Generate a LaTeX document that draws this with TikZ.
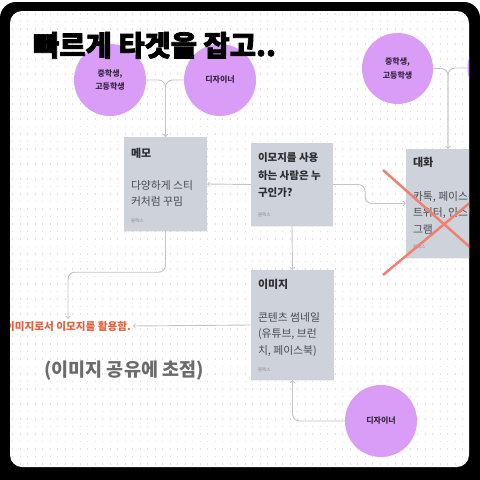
\documentclass[tikz,border=0pt]{standalone}
\usepackage{fontspec}
\usepackage{tikz}
\usepackage{xcolor}
\usetikzlibrary{shadows}
\setmainfont{Noto Sans CJK KR}
\newfontfamily\titlefont[BoldFeatures={FakeBold=2.5}]{Noto Sans CJK KR}
\definecolor{lilac}{RGB}{217,157,248}
\definecolor{lilacink}{RGB}{58,40,66}
\definecolor{notegray}{RGB}{206,210,218}
\definecolor{linegray}{RGB}{196,196,196}
\definecolor{dotgray}{RGB}{224,224,224}
\definecolor{salmon}{RGB}{242,128,112}
\definecolor{rust}{RGB}{230,95,60}
\definecolor{inkgray}{RGB}{75,75,80}
\definecolor{headink}{RGB}{45,45,50}

\begin{document}
\begin{tikzpicture}[x=1pt, y=-1pt,
  main/.style = {circle, fill=lilac, minimum size=72pt, inner sep=0pt, align=center, text=lilacink, font=\fontsize{8}{13.5}\selectfont\bfseries},
  note/.style = {rectangle, fill=notegray, inner sep=0pt, drop shadow={opacity=0.12, shadow xshift=0pt, shadow yshift=-1pt}},
  head/.style = {anchor=base west, inner sep=0pt, text=headink, font=\fontsize{11}{12}\selectfont\bfseries},
  body/.style = {anchor=north west, inner sep=0pt, align=left, text=inkgray, font=\fontsize{10.8}{16.5}\selectfont},
  sign/.style = {anchor=base west, inner sep=0pt, text=black!45, font=\fontsize{4.5}{5}\selectfont},
  link/.style = {->, linegray, line width=0.9pt, rounded corners=7pt}]
\useasboundingbox (0,0) rectangle (480,480);
\fill[black, rounded corners=16pt] (0,2) rectangle (480,520);
\fill[white, rounded corners=12pt] (10,11) rectangle (469,467);
\begin{scope}
\clip[rounded corners=12pt] (10,11) rectangle (469,467);
\foreach \y in {14,21.5,...,466}
  \draw[dotgray, line width=1.1pt, dash pattern=on 1.1pt off 6.4pt] (12,\y) -- (469,\y);

\node[main] (1) at (110,80) {중학생,\\고등학생};
\node[main] (2) at (220,80) {디자이너};
\node[main, minimum size=71pt] (3) at (397.5,68.5) {중학생,\\고등학생};
\node[main, minimum size=71pt] (4) at (503,68) {};
\node[main] (5) at (381,421) {디자이너};

\node[note, minimum width=83pt, minimum height=94pt] (6) at (165.5,184) {};
\node[note, minimum width=82pt, minimum height=83pt] (7) at (292,184.5) {};
\node[note, minimum width=84pt, minimum height=109pt] (8) at (448,203.5) {};
\node[note, minimum width=83pt, minimum height=110pt] (9) at (292.5,325) {};

\node[head] (6a) at ([shift={(7,21)}]6.north west) {메모};
\node[body] (6b) at ([shift={(7,43.5)}]6.north west) {다양하게 스티\\커처럼 꾸밈};
\node[sign] (6c) at ([shift={(7,85.5)}]6.north west) {블렉스};

\node[body, text=headink, font=\fontsize{10.5}{17.5}\selectfont\bfseries] (7a) at ([shift={(7,10)}]7.north west) {이모지를 사용\\하는 사람은 누\\구인가?};
\node[sign] (7c) at ([shift={(7,73.5)}]7.north west) {블렉스};

\node[head] (8a) at ([shift={(7,17.5)}]8.north west) {대화};
\node[body] (8b) at ([shift={(7,42.5)}]8.north west) {카톡, 페이스북,\\트위터, 인스타\\그램};
\node[sign] (8c) at ([shift={(7,99.5)}]8.north west) {블렉스};

\node[head] (9a) at ([shift={(7,18.5)}]9.north west) {이미지};
\node[body] (9b) at ([shift={(7,42.5)}]9.north west) {콘텐츠 썸네일\\(유튜브, 브런\\치, 페이스북)};
\node[sign] (9c) at ([shift={(7,101.5)}]9.north west) {블렉스};

\node[anchor=east, inner sep=2pt, text=rust, font=\fontsize{10.6}{12}\selectfont\bfseries] (10) at (133,326) {이미지로서 이모지를 활용함.};
\node[text=black!58, font=\fontsize{18.5}{20}\selectfont\bfseries] (11) at (124,371) {(이미지 공유에 초점)};

\draw[link] (1.east) -| (6.north);
\draw[link] (2.west) -| (6.north);
\draw[link] (3.east) -| (8.north);
\draw[link] (4.west) -| (8.north);
\draw[link] (7.west) -- (6.east);
\draw[link] (7.east) -- ++(32,0) |- (8.west);
\draw[link] (7.south) -- (9.north);
\draw[link] (9.west) -- (10.east);
\draw[link] (6.south) -- ++(0,41) -| (10.north);
\draw[link] (5.west) -| (9.south);

\draw[salmon, line width=2.5pt] (383,170) -- (507,280);
\draw[salmon, line width=2.5pt] (383,275) -- (507,172);

\node[anchor=base west, inner sep=0pt, font=\titlefont\bfseries\fontsize{28.5}{30}\selectfont] (0) at (33,56) {빠르게 타겟을 잡고..};
\end{scope}
\end{tikzpicture}
\end{document}
